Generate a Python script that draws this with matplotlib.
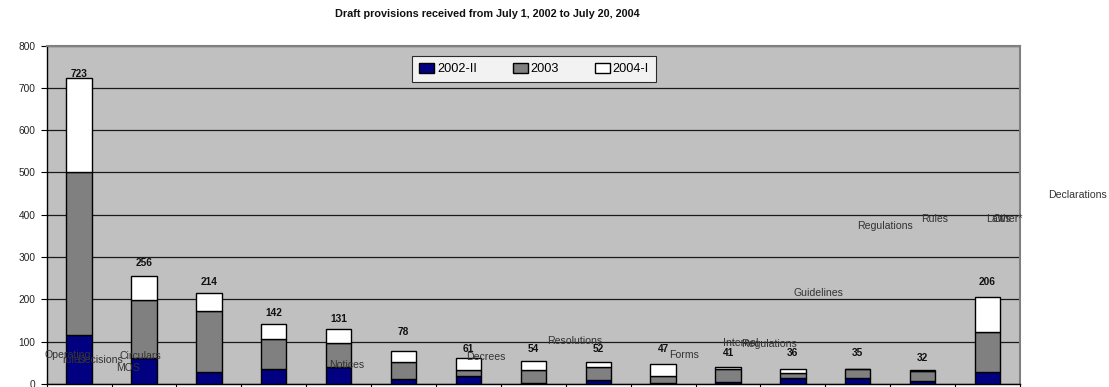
import matplotlib
matplotlib.use("Agg")
import matplotlib.pyplot as plt
import numpy as np

plt.rcParams['font.family'] = ['Liberation Sans', 'DejaVu Sans']

# ---- data ----
totals = [723, 256, 214, 142, 131, 78, 61, 54, 52, 47, 41, 36, 35, 32, 206]
s2002_II = [115, 62, 28, 36, 41, 12, 19, 3, 9, 2, 5, 13, 14, 8, 29]
s2003 = [387, 137, 145, 70, 57, 40, 14, 29, 31, 18, 31, 12, 21, 22, 93]
s2004_I = [221, 57, 41, 36, 33, 26, 28, 22, 12, 27, 5, 11, 0, 2, 84]
series_names = ['2002-II', '2003', '2004-I']
category_texts = ['Operating', 'rules', 'Decisions', 'Circulars', 'MOS', 'Notices',
                  'Decrees', 'Resolutions', 'Forms', 'Internal', 'Regulations',
                  'Guidelines', 'Regulations', 'Rules', 'Laws', 'Other*', 'Declarations']
title = 'Draft provisions received from July 1, 2002 to July 20, 2004'

# ---- layout (positions of the scattered labels, in data coords) ----
category_text_pos = [(-0.17, 68.5), (-0.08, 56.7), (0.32, 56.7), (0.94, 66.2), (0.75, 37.8),
                     (4.13, 44.9), (6.27, 63.8), (7.64, 101.6), (9.32, 68.5), (10.20, 96.9),
                     (10.63, 94.5), (11.40, 215), (12.42, 373.4), (13.19, 390), (14.16, 390),
                     (14.31, 390), (15.39, 446.7)]
value_label_y = [732.7, 286, 241, 167.8, 153.6, 122.9, 82.7, 82.7, 82.7, 82.7,
                 73.3, 73.3, 73.3, 61.4, 241]

W, H = 1109, 387
fig = plt.figure(figsize=(W / 100, H / 100), dpi=100)
ax = fig.add_axes([46.7 / W, (H - 384) / H, (1020 - 46.7) / W, (384 - 45.5) / H])
ax.set_facecolor('#C0C0C0')

x = np.arange(len(totals))
bw = 0.39
a = np.array(s2002_II)
b = np.array(s2003)
c = np.array(s2004_I)
colors = ['#000080', '#808080', '#FFFFFF']
b1 = ax.bar(x, a, bw, color=colors[0], edgecolor='black', linewidth=1.0, label=series_names[0], zorder=3)
b2 = ax.bar(x, b, bw, bottom=a, color=colors[1], edgecolor='black', linewidth=1.0, label=series_names[1], zorder=3)
b3 = ax.bar(x, c, bw, bottom=a + b, color=colors[2], edgecolor='black', linewidth=1.0, label=series_names[2], zorder=3)

ax.set_xlim(-0.5, len(totals) - 0.5)
ax.set_ylim(0, 800)
ax.set_yticks(np.arange(0, 801, 100))
ax.yaxis.grid(True, color='#1a1a1a', linewidth=0.9, zorder=1)
ax.set_axisbelow(True)
ax.set_xticks(np.arange(-0.5, len(totals), 1.0))
ax.set_xticklabels([])
ax.tick_params(axis='x', direction='out', length=4, width=0.8)
ax.tick_params(axis='y', direction='out', length=4, width=0.8, labelsize=7.3, pad=4)
for lab in ax.get_yticklabels():
    lab.set_color('#222222')
for s in ['top', 'right']:
    ax.spines[s].set_color('#808080')
    ax.spines[s].set_linewidth(1.5)
for s in ['left', 'bottom']:
    ax.spines[s].set_color('black')
    ax.spines[s].set_linewidth(1.0)

for i, t in enumerate(totals):
    ax.text(i, value_label_y[i], str(t), ha='center', va='center', fontsize=7.3,
            fontweight='bold', color='#111111', zorder=5)

for txt, (px, py) in zip(category_texts, category_text_pos):
    ax.text(px, py, txt, ha='center', va='center', fontsize=7.6, color='#333333',
            clip_on=False, zorder=5)

fig.text(487 / W, (H - 14) / H, title, ha='center', va='center', fontsize=7.8,
         fontweight='bold', color='#111111')

leg = fig.legend(handles=[b1, b2, b3], labels=series_names, ncol=3, loc='center',
                 bbox_to_anchor=(534 / W, (H - 69) / H), bbox_transform=fig.transFigure,
                 fontsize=9.2, frameon=True, fancybox=False, edgecolor='black',
                 handlelength=1.2, handleheight=0.8, handletextpad=0.2,
                 columnspacing=2.8, borderpad=0.55, borderaxespad=0)
leg.get_frame().set_linewidth(0.8)
leg.get_frame().set_facecolor('white')

fig.savefig('out.png', dpi=100)
